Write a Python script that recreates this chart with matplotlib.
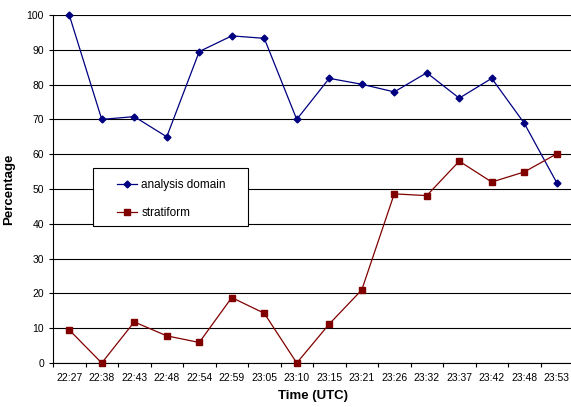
import matplotlib.pyplot as plt
from matplotlib.patches import Rectangle

times = ["22:27", "22:38", "22:43", "22:48", "22:54", "22:59", "23:05", "23:10",
         "23:15", "23:21", "23:26", "23:32", "23:37", "23:42", "23:48", "23:53"]
analysis_domain = [100, 70, 70.8, 65, 89.5, 94, 93.3, 70,
                   81.8, 80.1, 77.9, 83.4, 76.1, 81.8, 68.9, 51.8]
stratiform = [9.5, 0, 11.8, 7.8, 5.9, 18.8, 14.3, 0,
              11.2, 21, 48.6, 48.1, 58, 52, 54.9, 60.1]

plt.rcParams['font.family'] = ['Liberation Sans', 'DejaVu Sans']

fig = plt.figure(figsize=(5.71, 4.07), dpi=100)
ax = fig.add_axes([53 / 571, 1 - 363 / 407, 520 / 571, 348 / 407])

x = list(range(len(times)))
ax.plot(x, analysis_domain, color='#000080', marker='D', markersize=3.5,
        linewidth=0.9, label='analysis domain', clip_on=False, zorder=3)
ax.plot(x, stratiform, color='#800000', marker='s', markersize=4.5,
        linewidth=0.9, label='stratiform', clip_on=False, zorder=3)

ax.set_xlim(-0.5, len(times) - 0.5)
ax.set_ylim(0, 100)
ax.set_yticks(range(0, 101, 10))
ax.yaxis.grid(True, color='black', linewidth=0.8)
ax.set_axisbelow(True)

ax.set_xticks([i + 0.5 for i in range(-1, len(times))])
ax.set_xticklabels([])
ax.set_xticks(x, minor=True)
ax.set_xticklabels(times, minor=True, fontsize=7.5)
ax.tick_params(axis='x', which='minor', length=0, pad=7)
ax.tick_params(axis='x', which='major', length=3, width=0.8)
ax.tick_params(axis='y', labelsize=7.5, length=3, width=0.8)

for s in ['top', 'right']:
    ax.spines[s].set_visible(False)
ax.spines['left'].set_linewidth(0.8)
ax.spines['bottom'].set_linewidth(0.8)

ax.set_xlabel('Time (UTC)', fontsize=9.5, fontweight='bold', labelpad=5)
ax.set_ylabel('Percentage', fontsize=9.5, fontweight='bold', labelpad=8)

# legend box (white panel with black border) and frameless legend on top
box = Rectangle((40 / 520, 137 / 348), 155 / 520, 58 / 348,
                transform=ax.transAxes, facecolor='white', edgecolor='black',
                linewidth=0.8, zorder=4)
ax.add_patch(box)
leg = ax.legend(loc='upper left', bbox_to_anchor=(64 / 520, 1 - 164 / 348),
                fontsize=8.5, frameon=False, borderpad=0, borderaxespad=0,
                labelspacing=1.35, handlelength=1.7, handletextpad=0.35)
leg.set_zorder(5)

fig.savefig('out.png', dpi=100)
